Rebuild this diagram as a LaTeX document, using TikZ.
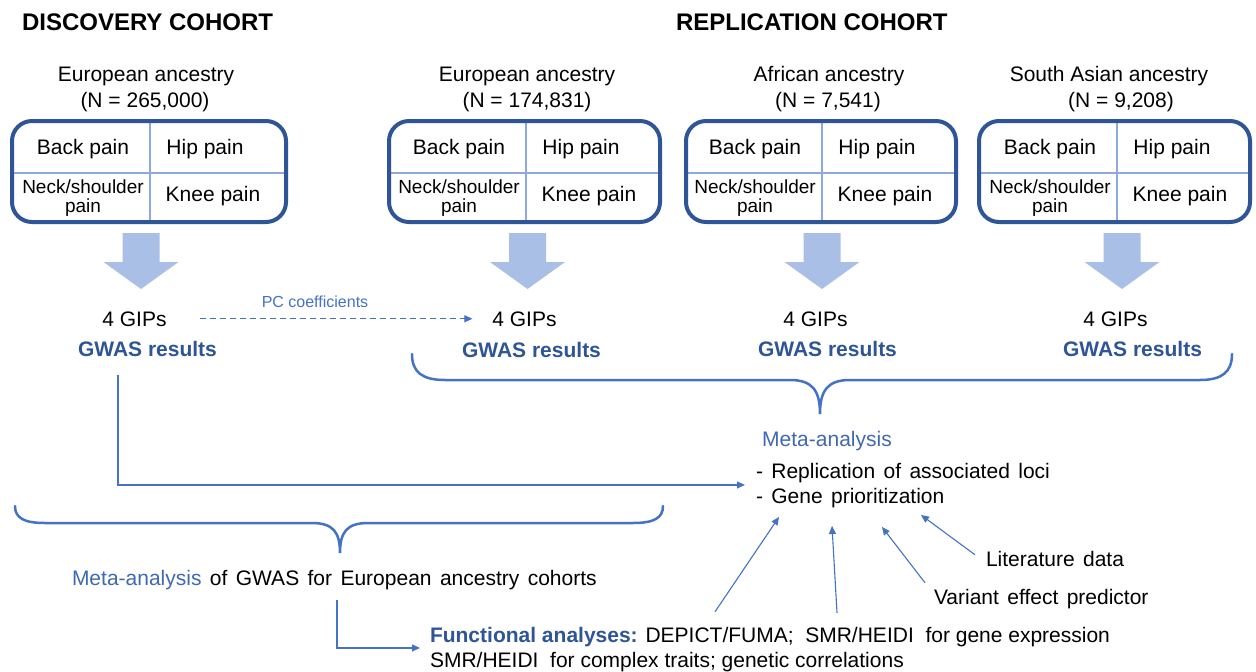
\documentclass[tikz,border=0pt]{standalone}
\usepackage{fontspec}
\setmainfont{Liberation Sans}
\usetikzlibrary{arrows.meta,fit}
\definecolor{boxblue}{HTML}{2F5597}
\definecolor{gridblue}{HTML}{8EA9DB}
\definecolor{fatblue}{HTML}{A9BFE5}
\definecolor{lineblue}{HTML}{4472C4}
\definecolor{metablue}{HTML}{4169B0}
\newcommand{\widesp}{\spaceskip=8.4pt\relax}
\begin{document}
\begin{tikzpicture}[x=1pt,y=-1pt,
  every node/.style={inner sep=0pt, outer sep=0pt},
  txt/.style={anchor=base, font=\fontsize{21}{25}\selectfont},
  ltxt/.style={anchor=base west, font=\fontsize{21}{25}\selectfont},
  headtxt/.style={anchor=base west, font=\fontsize{24}{28}\selectfont\bfseries},
  smalltxt/.style={anchor=base, font=\fontsize{19}{21}\selectfont},
  gwastxt/.style={anchor=base, font=\fontsize{21}{25}\selectfont\bfseries, text=boxblue},
  pctxt/.style={anchor=base, font=\fontsize{16}{19}\selectfont, text=lineblue},
  cohortbox/.style={draw=boxblue, line width=4pt, rounded corners=20pt},
  gridline/.style={draw=gridblue, line width=1.3pt},
  fatarrow/.style={fill=fatblue},
  conn/.style={draw=lineblue, line width=1.1pt, -{Triangle[length=8pt,width=7pt]}},
  dashconn/.style={conn, dash pattern=on 6pt off 4pt},
  bracepath/.style={draw=lineblue, line width=2.5pt, line cap=round}
]
\useasboundingbox[fill=white] (0,0) rectangle (1256,672);

% titles
\node[headtxt] (disc) at (22,30) {DISCOVERY COHORT};
\node[headtxt] (repl) at (676,30) {REPLICATION COHORT};

% headers
\node[txt] (h1a) at (146,81) {European ancestry};
\node[txt] (h1b) at (145,107) {(N = 265,000)};
\node[txt] (h2a) at (527,81) {European ancestry};
\node[txt] (h2b) at (527,107) {(N = 174,831)};
\node[txt] (h3a) at (829,81) {African ancestry};
\node[txt] (h3b) at (828,107) {(N = 7,541)};
\node[txt] (h4a) at (1109,81) {South Asian ancestry};
\node[txt] (h4b) at (1121,107) {(N = 9,208)};

% boxes
\foreach \n/\l/\r/\d in {1/12/286/150, 2/389/660/526, 3/686/956/822, 4/979/1250/1117}{
  \draw[gridline] (\d,121) -- (\d,222);
  \draw[gridline] (\l,173) -- (\r,173);
  \node[cohortbox, fit={(\l,121) (\r,222)}] (box\n) {};
  \node[txt] (back\n) at ({\d-67},154) {Back pain};
  \node[txt] (hip\n) at ({\d+55},154) {Hip pain};
  \node[smalltxt] (neck\n) at ({\d-67},193) {Neck/shoulder};
  \node[smalltxt] (neckb\n) at ({\d-67},212) {pain};
  \node[txt] (knee\n) at ({\d+63},201) {Knee pain};
}

% fat arrows
\foreach \c in {141,527.5,822,1122}{
  \fill[fatarrow] ({\c-18.5},233) -- ({\c+18.5},233) -- ({\c+18.5},262) -- ({\c+37.5},262)
    -- (\c,289) -- ({\c-37.5},262) -- ({\c-18.5},262) -- cycle;
}

% GIPs and GWAS results
\node[txt] (gip1) at (134.5,326) {4 GIPs};
\node[txt] (gip2) at (524.5,326) {4 GIPs};
\node[txt] (gip3) at (815.5,326) {4 GIPs};
\node[txt] (gip4) at (1115.5,326) {4 GIPs};
\node[gwastxt] (gwas1) at (147.5,356) {GWAS results};
\node[gwastxt] (gwas2) at (531.5,357) {GWAS results};
\node[gwastxt] (gwas3) at (827.5,356) {GWAS results};
\node[gwastxt] (gwas4) at (1132.5,356) {GWAS results};

% PC coefficients
\node[pctxt] (pc) at (315,307) {PC coefficients};
\draw[dashconn] ([xshift=33pt]gip1.east) -- ([xshift=-20pt]gip2.west);

% big brace
\draw[bracepath] (412,354) .. controls (412,372) and (422,380) .. (445,380) -- (790,380)
  .. controls (812,380) and (820,390) .. (820,414)
  .. controls (820,390) and (828,380) .. (850,380) -- (1200,380)
  .. controls (1222,380) and (1232,372) .. (1232,354);

% bottom brace
\draw[bracepath] (15,506) .. controls (15,518) and (24,523) .. (45,523) -- (312,523)
  .. controls (333,523) and (340,532) .. (340,553)
  .. controls (340,532) and (347,523) .. (368,523) -- (633,523)
  .. controls (654,523) and (663,518) .. (663,506);

% meta-analysis
\node[txt, text=metablue] (meta) at (827,446) {Meta-analysis};
\node[ltxt] (rep) at (756,478) {\widesp - Replication of associated loci};
\node[ltxt] (gene) at (756,503) {\widesp - Gene prioritization};

\draw[conn] ([xshift=-29.5pt,yshift=-19pt]gwas1.south) |- ([xshift=-11pt,yshift=-2.6pt]rep.south west);

% bottom left
\node[ltxt] (meta2) at (72,585) {\widesp\textcolor{metablue}{Meta-analysis} of GWAS for European ancestry cohorts};

% functional analyses
\node[ltxt] (func) at (430,642) {\textbf{\textcolor{boxblue}{Functional analyses:}} DEPICT/FUMA;\ \ SMR/HEIDI\ \ for gene expression};
\node[ltxt] (func2) at (430,667) {SMR/HEIDI\ \ for complex traits; genetic correlations};

\draw[conn] ([xshift=265pt,yshift=-11pt]meta2.south west) |- ([xshift=-10pt,yshift=-1.6pt]func.south west);

% side inputs
\node[ltxt] (vep) at (934,604) {\widesp Variant effect predictor};
\node[ltxt] (lit) at (986,566) {\widesp Literature data};

\draw[conn] ([xshift=285pt,yshift=15pt]func.north west) -- ([xshift=23pt,yshift=-9.6pt]gene.south west);
\draw[conn] ([xshift=407pt,yshift=14pt]func.north west) -- ([xshift=76pt,yshift=-18.6pt]gene.south west);
\draw[conn] ([xshift=-9pt,yshift=6pt]vep.north west) -- ([xshift=126pt,yshift=-19.6pt]gene.south west);
\draw[conn] ([xshift=-11pt,yshift=-4pt]lit.north west) -- ([xshift=165pt,yshift=-7.6pt]gene.south west);
\end{tikzpicture}
\end{document}
